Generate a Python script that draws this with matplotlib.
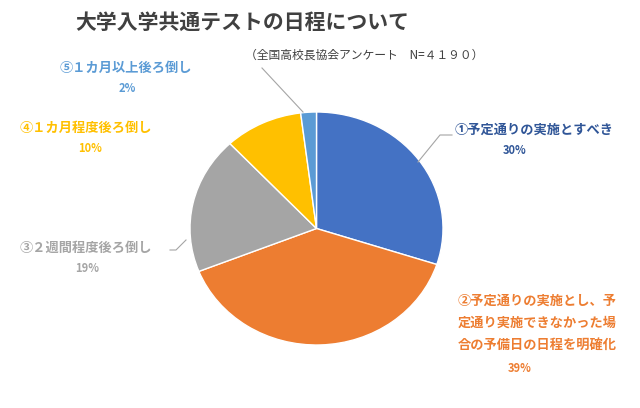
import matplotlib
matplotlib.use("Agg")
import matplotlib.pyplot as plt

plt.rcParams["font.family"] = "Noto Sans CJK JP"

labels = ["①予定通りの実施とすべき",
          "②予定通りの実施とし、予\n定通り実施できなかった場\n合の予備日の日程を明確化",
          "③２週間程度後ろ倒し",
          "④１カ月程度後ろ倒し",
          "⑤１カ月以上後ろ倒し"]
values = [30, 39, 19, 10, 2]
colors = ["#4472C4", "#ED7D31", "#A5A5A5", "#FFC000", "#5B9BD5"]
text_colors = ["#2F5597", "#ED7D31", "#A5A5A5", "#FFC000", "#5B9BD5"]

W, H = 640, 408
fig = plt.figure(figsize=(6.4, 4.08), dpi=100)
ax = fig.add_axes([190 / W, (H - 345) / H, 253 / W, 233 / H])
ax.pie(values, colors=colors, startangle=90, counterclock=False,
       wedgeprops=dict(edgecolor="white", linewidth=1))
ax.set_aspect("auto")
ax.set_xlim(-1, 1)
ax.set_ylim(-1, 1)


def px(x, y):
    return x / W, 1 - y / H


fig.text(*px(75, 22), "大学入学共通テストの日程について", fontsize=15,
         fontweight="bold", color="#404040", va="center")
fig.text(*px(245, 55), "（全国高校長協会アンケート　N=４１９０）", fontsize=8.5,
         color="#404040", va="center")

label_pos = [((455, 130), (515, 151), "left"),
             ((458, 294), (520, 368), "left"),
             ((20, 248), (87, 268), "left"),
             ((20, 128), (90, 148), "left"),
             ((60, 68), (127, 88), "left")]
for (tp, pp, ha), lab, v, c in zip(label_pos, labels, values, text_colors):
    fig.text(*px(*tp), lab, fontsize=9.5, fontweight="bold", color=c,
             va="top" if "\n" in lab else "center", ha=ha, linespacing=1.7)
    fig.text(*px(*pp), f"{v}%", fontsize=8, fontweight="bold", color=c,
             va="center", ha="center")

leaders = [[(452, 135), (440, 135), (418, 162)],
           [(170, 250), (176, 250), (186, 240)],
           [(262, 68), (303, 112)]]
for pts in leaders:
    xs = [p[0] / W for p in pts]
    ys = [1 - p[1] / H for p in pts]
    fig.add_artist(plt.Line2D(xs, ys, color="#A5A5A5", linewidth=0.8))

fig.savefig("out.png", dpi=100)
